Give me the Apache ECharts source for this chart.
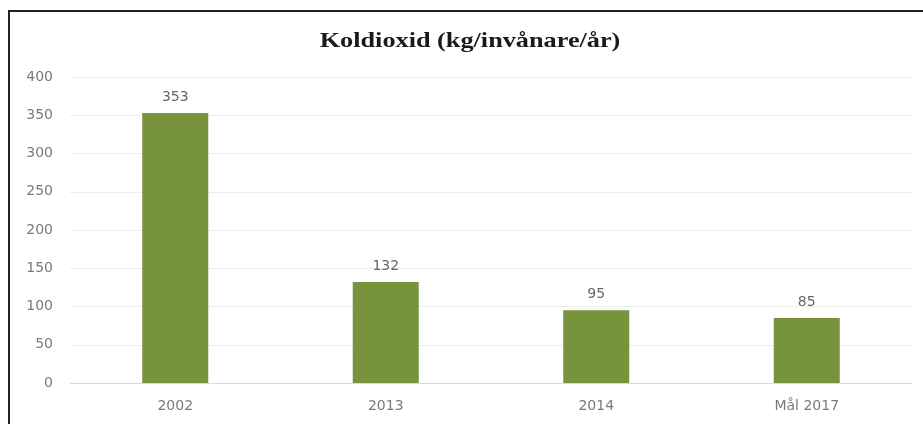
<!DOCTYPE html>
<html>
<head>
<meta charset="utf-8">
<script src="https://cdn.jsdelivr.net/npm/echarts@6/dist/echarts.min.js"></script>
<style>
  html, body { margin: 0; padding: 0; background: #fff; overflow: hidden; }
  .frame {
    position: absolute;
    left: 8px;
    top: 10px;
    width: 940px;
    height: 440px;
    border-left: 2px solid #222;
    border-top: 2px solid #222;
  }
  #chart { position: absolute; left: 0; top: 0; width: 923px; height: 424px; }
</style>
</head>
<body>
<div class="frame"></div>
<div id="chart"></div>
<script>
const categories = ["2002", "2013", "2014", "Mål 2017"];
const values = [353, 132, 95, 85];
const yTicks = [0, 50, 100, 150, 200, 250, 300, 350, 400];
const titleText = "Koldioxid (kg/invånare/år)";

const chart = echarts.init(document.getElementById("chart"), null, { renderer: "canvas" });

const labelFont = {
  color: "#7a7a7a",
  fontFamily: "DejaVu Sans",
  fontSize: 14,
};

chart.setOption({
  animation: false,
  // title is drawn as graphic text so it can be widened like the original
  graphic: [
    {
      type: "text",
      x: 470,
      y: 42,
      scaleX: 1.25,
      style: {
        text: titleText,
        fontFamily: "Liberation Serif",
        fontWeight: "bold",
        fontSize: 21,
        fill: "#1a1a1a",
        align: "center",
        verticalAlign: "middle",
      },
    },
  ],
  grid: {
    left: 70,
    right: 11,
    top: 77,
    bottom: 41,
    containLabel: false,
  },
  xAxis: {
    type: "category",
    data: categories,
    axisLine: { lineStyle: { color: "#d9d9d9", width: 1 } },
    axisTick: { show: false },
    axisLabel: { ...labelFont, margin: 16 },
  },
  yAxis: {
    type: "value",
    min: yTicks[0],
    max: yTicks[yTicks.length - 1],
    interval: 50,
    axisLine: { show: false },
    axisTick: { show: false },
    axisLabel: { ...labelFont, margin: 17 },
    splitLine: { lineStyle: { color: "#ececec", width: 1 } },
  },
  series: [
    {
      type: "bar",
      data: values,
      barWidth: 66,
      itemStyle: { color: "#77933c" },
      label: {
        show: true,
        position: "top",
        distance: 9,
        ...labelFont,
        color: "#666",
      },
    },
  ],
});
</script>
</body>
</html>
